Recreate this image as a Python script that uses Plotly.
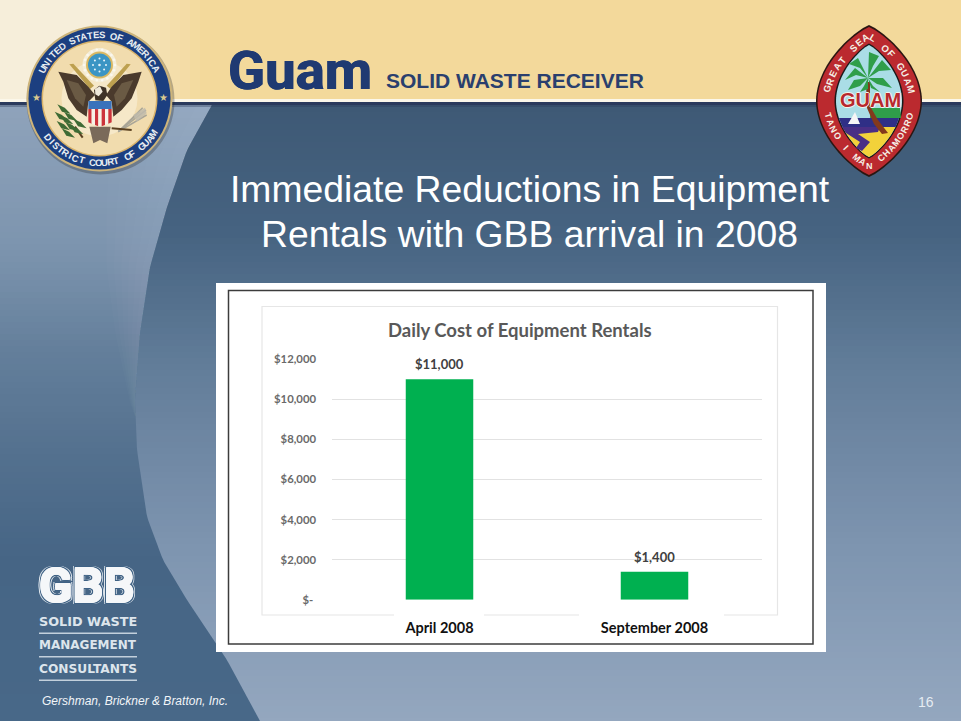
import numpy as np
import plotly.graph_objects as go

W, H = 961, 721

# ---- chart data ----
categories = ["April 2008", "September 2008"]
cost_values = [11000, 1400]
tick_values = [0, 2000, 4000, 6000, 8000, 10000, 12000]
tick_labels = ["$-\u00a0", "$2,000", "$4,000", "$6,000", "$8,000", "$10,000", "$12,000"]
chart_title = "Daily Cost of Equipment Rentals"
slide_title = ["Immediate Reductions in Equipment", "Rentals with GBB arrival in 2008"]

shapes, annots = [], []
fx = lambda x: x / W
fy = lambda y: 1 - y / H


def rect(x0, y0, x1, y1, fill, line=None, lw=0, layer="below"):
    shapes.append(dict(type="rect", xref="paper", yref="paper", x0=fx(x0), x1=fx(x1), y0=fy(y0), y1=fy(y1),
                       fillcolor=fill, line=dict(color=line or "rgba(0,0,0,0)", width=lw), layer=layer))


def poly(pts, fill, line=None, lw=0, close=True):
    d = "M" + " L".join(f"{fx(x):.5f},{fy(y):.5f}" for x, y in pts) + (" Z" if close else "")
    shapes.append(dict(type="path", xref="paper", yref="paper", path=d,
                       fillcolor=fill if close else "rgba(0,0,0,0)",
                       line=dict(color=line or "rgba(0,0,0,0)", width=lw), layer="below"))


def circle(cx, cy, r, fill, line=None, lw=0):
    shapes.append(dict(type="circle", xref="paper", yref="paper", x0=fx(cx - r), x1=fx(cx + r),
                       y0=fy(cy + r), y1=fy(cy - r), fillcolor=fill,
                       line=dict(color=line or "rgba(0,0,0,0)", width=lw), layer="below"))


def text(x, y, s, size, color, family="Liberation Sans", anchor="center", bold=False, italic=False, angle=0, shadow=None):
    font = dict(family=family, size=size, color=color, weight="bold" if bold else "normal",
                style="italic" if italic else "normal")
    if shadow:
        font["shadow"] = shadow
    annots.append(dict(x=fx(x), y=fy(y), xref="paper", yref="paper", text=s, showarrow=False, font=font,
                       xanchor=anchor, yanchor="middle", textangle=angle, borderpad=0, borderwidth=0))


def path_text(s, pts, size, color, bold=True):
    pts = np.array(pts, float)
    seg = np.hypot(*np.diff(pts, axis=0).T)
    cum = np.r_[0, np.cumsum(seg)]
    for i, ch in enumerate(s):
        if ch == " ":
            continue
        d = cum[-1] * i / (len(s) - 1)
        x = np.interp(d, cum, pts[:, 0])
        y = np.interp(d, cum, pts[:, 1])
        x2 = np.interp(min(d + 1, cum[-1]), cum, pts[:, 0]) - np.interp(max(d - 1, 0), cum, pts[:, 0])
        y2 = np.interp(min(d + 1, cum[-1]), cum, pts[:, 1]) - np.interp(max(d - 1, 0), cum, pts[:, 1])
        text(x, y, ch, size, color, bold=bold, angle=float(np.degrees(np.arctan2(y2, x2))))


def rgb(c):
    return "rgb(" + ",".join(str(int(round(v))) for v in c) + ")"


def mix(a, b, t):
    t = min(max(t, 0), 1)
    return rgb([p + (q - p) * t for p, q in zip(a, b)])


# ---- slide background ----
curve_y = [103, 150, 207, 267, 333, 400, 450, 517, 560, 600, 660, 721]
curve_x = [213, 187, 167, 150, 140, 135, 137, 147, 163, 187, 227, 260]
R_STOPS = ([104, 233, 367, 467, 550, 721],
           [(62, 89, 117), (70, 99, 129), (98, 125, 153), (114, 138, 166), (126, 149, 176), (148, 167, 191)])
L_STOPS = ([104, 250, 350, 450, 560, 721],
           [(143, 163, 187), (124, 148, 174), (100, 127, 155), (84, 113, 143), (70, 101, 133), (72, 104, 136)])


def stop(st, y):
    return tuple(np.interp(y, st[0], [c[k] for c in st[1]]) for k in range(3))


step = 6
for y in range(100, H, step):
    y2 = min(y + step, H)
    rect(0, y, W, y2, rgb(stop(R_STOPS, y + step / 2)))
    poly([(0, y), (np.interp(y, curve_y, curve_x), y), (np.interp(y2, curve_y, curve_x), y2), (0, y2)],
         rgb(stop(L_STOPS, y + step / 2)))

# soft light crescent along the upper part of the curve
yy = np.arange(104, 420, 8.0)
for d0 in (90, 75, 60, 45, 30, 15):
    cxs = np.interp(yy, curve_y, curve_x)
    inner = cxs - d0 * np.clip((420 - yy) / 316, 0, 1)
    poly(list(zip(cxs, yy)) + list(zip(inner[::-1], yy[::-1])), "rgba(255,255,255,0.014)")

# header band
for x in range(0, W, 10):
    t = (x - 80) / 120
    rect(x, 0, x + 10, 100, mix((246, 238, 218), (243, 217, 155), t))
rect(0, 99, W, 102, "#fbf7ea")
rect(0, 102, W, 105, "#2b3a5c")
rect(0, 105, W, 107, "rgba(40,55,85,0.35)")

# ---- left seal (District Court of Guam) ----
cx, cy = 99.5, 98.5
Z = lambda pts: [(20 + a / 3, 15 + b / 3) for a, b in pts]  # helper: drawing grid in thirds of a pixel
circle(cx + 1, cy + 2, 74, "rgba(40,40,40,0.3)")
circle(cx, cy, 73, "#cdb47a")
circle(cx, cy, 71, "#1c3f80")
circle(cx, cy, 58, "#d9b36a")
circle(cx, cy, 56.5, "#f1dcae")
circle(cx, cy, 38, "#f6e8c8")
circle(99.5, 65, 17, "#f4eeda")
circle(99.5, 65, 13.5, "#d9b862")
circle(99.5, 65, 11.5, "#3b95c4")
for a in np.arange(0, 360, 45):
    circle(99.5 + 6.5 * np.cos(np.radians(a)), 65 + 6.5 * np.sin(np.radians(a)), 1, "#e8f4fa")
for a in np.arange(0, 360, 20):
    circle(99.5 + 15.5 * np.cos(np.radians(a)), 65 + 15.5 * np.sin(np.radians(a)), 1.3, "#fbf8ee")
circle(99.5, 65, 1.3, "#e8f4fa")
# gold staves
poly(Z([(148, 148), (160, 146), (222, 212), (210, 222)]), "#bda04f")
poly(Z([(332, 148), (320, 146), (260, 212), (272, 222)]), "#bda04f")
# wings
poly(Z([(115, 170), (170, 180), (205, 215), (225, 240), (205, 260), (200, 305), (170, 285), (145, 250), (130, 200)]),
     "#4a3a2c")
poly(Z([(365, 170), (310, 180), (275, 215), (258, 240), (275, 260), (280, 305), (305, 285), (335, 250), (355, 200)]),
     "#4a3a2c")
poly(Z([(140, 195), (175, 205), (198, 240), (190, 275), (165, 250)]), "#6a5a44")
poly(Z([(340, 195), (305, 205), (282, 240), (290, 275), (315, 250)]), "#6a5a44")
# head and tail
poly(Z([(222, 225), (238, 212), (258, 218), (262, 240), (250, 258), (226, 256)]), "#3f3226")
poly(Z([(225, 222), (240, 214), (248, 230), (236, 244), (226, 238)]), "#efe9da")
poly(Z([(208, 335), (272, 335), (262, 385), (240, 375), (220, 385)]), "#7a6a5a")
# olive branch
poly(Z([(165, 335), (188, 368)]), None, "#5a4020", 2, close=False)
for a, b in [(112, 268), (104, 290), (120, 300), (110, 318), (135, 320), (132, 290), (150, 330), (160, 312), (125, 340)]:
    poly(Z([(a, b), (a + 22, b + 10), (a + 40, b + 28), (a + 14, b + 22)]), "#3e6b34")
# arrows
for a, b in [(378, 285), (368, 278), (380, 300), (360, 290)]:
    poly(Z([(a, b), (295, 350)]), None, "#a9a597", 1.5, close=False)
poly(Z([(340, 300), (375, 278), (380, 295), (350, 320)]), "rgba(190,186,172,0.85)")
poly(Z([(275, 340), (335, 345)]), None, "#5a4020", 2, close=False)
# shield
poly(Z([(205, 258), (275, 258), (275, 282), (205, 282)]), "#3a72bb")
for k in range(7):
    xa, xb = 205 + k * 10, 205 + (k + 1) * 10
    bot = lambda v: 322 + 14 * (1 - abs(v - 240) / 35)
    poly(Z([(xa, 282), (xb, 282), (xb, bot(xb)), (xa, bot(xa))]), "#cc343b" if k % 2 == 0 else "#f6f1e6")
text(36, 98, "★", 10, "#d9c98f")
text(163.5, 98, "★", 10, "#d9c98f")
ang = np.radians(np.linspace(-153, -28, 50))
path_text("UNITED STATES OF AMERICA", np.c_[cx + 64 * np.cos(ang), cy + 64 * np.sin(ang)], 9.5, "#e9eef2")
ang = np.radians(np.linspace(143, 33, 50))
path_text("DISTRICT COURT OF GUAM", np.c_[cx + 64 * np.cos(ang), cy + 64 * np.sin(ang)], 9.5, "#e9eef2")

# ---- right seal (Guam) ----
gx, gy = 869, 101


def lens_w(y, hw, hh):
    u = np.clip(np.abs(y - gy) / hh, 0, 1)
    return hw * (1 - u ** 1.9) ** 0.85


def lens(hw, hh, y1=None, y2=None, n=50):
    y1 = gy - hh if y1 is None else y1
    y2 = gy + hh if y2 is None else y2
    ys = np.linspace(y1, y2, n)
    ws = lens_w(ys, hw, hh)
    return list(zip(gx + ws, ys)) + list(zip((gx - ws)[::-1], ys[::-1]))


poly(lens(53, 76), "#2a1612")
poly(lens(51.5, 74), "#bb2a2f")
poly(lens(34.5, 57.5), "#1a1a1a")
poly(lens(33, 56), "#aadde6")
poly(lens(33, 56, 118, 127, 8), "#2f2f86")
poly(lens(33, 56, 127, 157, 14), "#f2d23a")
poly([(870, 108), (900, 108), (901, 118), (870, 118)], "#2f9e4a")
poly([(842, 127), (880, 127), (878, 132), (858, 134), (870, 142), (862, 151), (856, 148), (860, 142), (846, 133)], "#4a2f85")
poly([(855, 112), (860, 124), (848, 124)], "#f6f6f6")
poly([(866, 82), (867, 108), (874, 124), (882, 134), (888, 133), (878, 120), (870, 106), (870, 82)], "#83391c")
fronds = [[(868, 78), (855, 68), (845, 80), (856, 75)], [(868, 78), (858, 58), (849, 64), (860, 68)],
          [(868, 78), (869, 52), (879, 56), (873, 66)], [(868, 78), (882, 60), (891, 70), (879, 71)],
          [(868, 78), (854, 80), (848, 90), (860, 86)], [(868, 78), (883, 78), (892, 88), (877, 84)],
          [(868, 78), (864, 86), (860, 92), (868, 89)], [(868, 78), (873, 86), (880, 92), (871, 88)]]
for fr in fronds:
    poly(fr, "#2f9e4a")
halo0 = ",".join(f"{a}px {b}px 0 #f5f3ea" for a, b in [(-1, 0), (1, 0), (0, -1), (0, 1)])
text(870, 100, "GUAM", 20, "#b7282e", bold=True, shadow=halo0)
ys = np.linspace(gy - 12, gy - 64.5, 25)
left = np.c_[gx - lens_w(ys, 43, 65), ys]
ys2 = ys[::-1]
right = np.c_[gx + lens_w(ys2, 43, 65), ys2]
path_text("GREAT SEAL OF GUAM", np.r_[left, right], 9.5, "#f5f0e6")
ys = np.linspace(gy + 15, gy + 64.5, 25)
left = np.c_[gx - lens_w(ys, 43, 65), ys]
ys2 = ys[::-1]
right = np.c_[gx + lens_w(ys2, 43, 65), ys2]
path_text("TANO I MAN CHAMORRO", np.r_[left, right], 9, "#f5f0e6")

# ---- header text ----
thick = "0.6px 0 0 #1f3a72,-0.6px 0 0 #1f3a72"
text(228, 70, "Guam", 54.5, "#1f3a72", family="Roboto", anchor="left", bold=True, shadow=thick)
text(386, 81, "SOLID WASTE RECEIVER", 21, "#2a3f6e", anchor="left", bold=True)

# ---- slide title ----
text(530, 189, slide_title[0], 37.3, "#ffffff")
text(529, 234, slide_title[1], 37.3, "#ffffff")

# ---- chart card ----
rect(216, 283, 826, 652, "#ffffff")
rect(228.5, 290.5, 813, 644, "#ffffff", "#3c3c3c", 1.5)
rect(262, 306.5, 777.5, 615, "#ffffff", "#e6e6e6", 1.2)
rect(394, 610, 484, 620, "#ffffff")
rect(579, 610, 724, 620, "#ffffff")
text(520, 330, chart_title, 18.5, "#595959", family="Lato", bold=True)


# ---- GBB logo ----
def ring(r, col):
    return ",".join(f"{a}px {b}px 0 {col}" for a, b in [(-r, 0), (r, 0), (0, -r), (0, r), (-r, -r), (r, r), (-r, r), (r, -r)])


text(87, 585, "GBB", 49, "#f5f7f9", family="Roboto", bold=True,
     shadow=ring(0.7, "#f5f7f9") + "," + ring(1.6, "#3f6285") + "," + ring(2.4, "#dfe6ec"))
text(88, 621, "SOLID WASTE", 12.8, "#dde5ec", family="DejaVu Sans", bold=True)
text(88, 645, "MANAGEMENT", 12, "#dde5ec", family="DejaVu Sans", bold=True)
text(88, 669, "CONSULTANTS", 12.2, "#dde5ec", family="DejaVu Sans", bold=True)
rect(39, 632.5, 137, 634, "#c3d0dc")
rect(39, 656, 137, 657.5, "#c3d0dc")
rect(39, 679.5, 137, 681, "#c3d0dc")

# ---- footer ----
text(42, 701, "Gershman, Brickner &amp; Bratton, Inc.", 12, "#f2f5f8", anchor="left", italic=True)
text(926, 702, "16", 14, "#e6ecf2")

# ---- the chart ----
fig = go.Figure(go.Bar(x=categories, y=cost_values, marker=dict(color="#00b050", line=dict(width=0)),
                       width=0.314, cliponaxis=False, hoverinfo="skip"))
for c, v in zip(categories, cost_values):
    annots.append(dict(x=c, y=v, xref="x", yref="y", text=f"${v:,}", showarrow=False, yanchor="bottom", yshift=5,
                       font=dict(family="Lato", size=13, color="#404040", weight="bold")))

fig.update_layout(
    width=W, height=H, margin=dict(l=0, r=0, t=0, b=0, pad=0), autosize=False,
    paper_bgcolor="#3e5a75", plot_bgcolor="rgba(0,0,0,0)", showlegend=False,
    shapes=shapes, annotations=annots,
    xaxis=dict(domain=[332 / W, 762 / W], type="category", showgrid=False, zeroline=False, showline=False, ticks="",
               automargin=False, ticklabelstandoff=18,
               tickfont=dict(family="Lato", size=14.5, color="#111111", weight="bold")),
    yaxis=dict(domain=[1 - 599.7 / H, 1 - 359.3 / H], range=[0, 12000], tickvals=tick_values, ticktext=tick_labels,
               showgrid=True, gridcolor="#e2e2e2", gridwidth=1.2, zeroline=False, showline=False, ticks="",
               automargin=False, ticklabelstandoff=15,
               tickfont=dict(family="Lato", size=11.3, color="#6a6a6a", weight="bold")),
)
fig.write_html("out.html", config=dict(displayModeBar=False),
               post_script="document.body.style.margin='0';document.body.style.overflow='hidden';")
